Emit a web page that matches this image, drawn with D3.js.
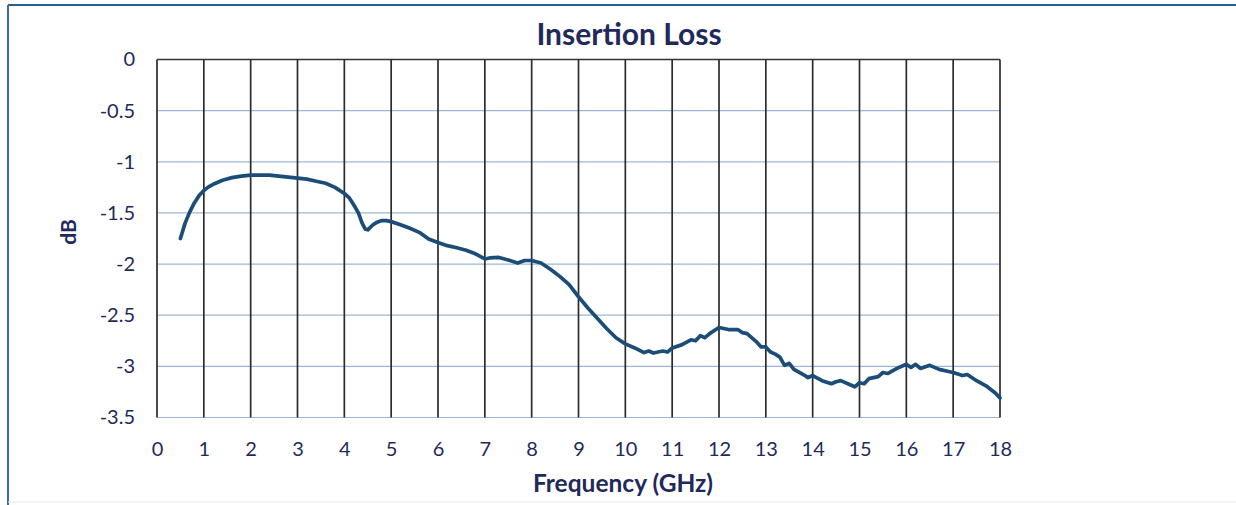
<!DOCTYPE html>
<html>
<head>
<meta charset="utf-8">
<script src="https://cdn.jsdelivr.net/npm/d3@7"></script>
<style>
  body { margin: 0; background: #fff; }
  svg { display: block; }
  text { font-family: Lato, "Open Sans", sans-serif; fill: #1f2a5a; }
</style>
</head>
<body>
<div id="chart"></div>
<script>
// Insertion Loss chart

var freqGHz = [0.5, 0.6, 0.7, 0.8, 0.9, 1.0, 1.1, 1.2, 1.4, 1.6, 1.8, 2.0, 2.2, 2.4, 2.6, 2.8,
    3.0, 3.2, 3.4, 3.6, 3.8, 4.0, 4.1, 4.2, 4.3, 4.38, 4.45, 4.5, 4.6, 4.7, 4.8, 4.9,
    5.0, 5.2, 5.4, 5.6, 5.8, 6.0, 6.2, 6.4, 6.6, 6.8, 7.0, 7.1, 7.3, 7.5, 7.7, 7.85,
    8.0, 8.2, 8.4, 8.6, 8.8, 9.0, 9.2, 9.4, 9.6, 9.8, 10.0, 10.2, 10.4, 10.5, 10.6, 10.8,
    10.9, 11.0, 11.2, 11.4, 11.5, 11.6, 11.7, 11.8, 12.0, 12.2, 12.4, 12.5, 12.6, 12.8,
    12.9, 13.0, 13.1, 13.2, 13.3, 13.4, 13.5, 13.6, 13.8, 13.9, 14.0, 14.2, 14.4, 14.5,
    14.6, 14.8, 14.9, 15.0, 15.1, 15.2, 15.4, 15.5, 15.6, 15.8, 16.0, 16.1, 16.2, 16.3,
    16.5, 16.7, 16.9, 17.0, 17.2, 17.3, 17.5, 17.7, 17.9, 18.0];

var lossDb = [-1.75, -1.60, -1.49, -1.40, -1.33, -1.28, -1.245, -1.22, -1.18, -1.155, -1.14, -1.13, -1.13, -1.13, -1.14, -1.15,
    -1.16, -1.17, -1.19, -1.21, -1.25, -1.31, -1.35, -1.42, -1.50, -1.60, -1.66, -1.665, -1.62, -1.59, -1.575, -1.575,
    -1.585, -1.615, -1.65, -1.69, -1.755, -1.79, -1.82, -1.84, -1.865, -1.90, -1.95, -1.94, -1.935, -1.96, -1.99, -1.965,
    -1.965, -1.99, -2.05, -2.12, -2.20, -2.32, -2.43, -2.53, -2.63, -2.72, -2.78, -2.82, -2.865, -2.85, -2.87, -2.85,
    -2.86, -2.82, -2.79, -2.74, -2.75, -2.70, -2.72, -2.68, -2.62, -2.64, -2.64, -2.67, -2.68, -2.76,
    -2.81, -2.81, -2.86, -2.88, -2.91, -2.99, -2.97, -3.03, -3.08, -3.11, -3.09, -3.14, -3.17, -3.15,
    -3.14, -3.18, -3.20, -3.16, -3.17, -3.12, -3.10, -3.06, -3.07, -3.02, -2.98, -3.01, -2.98, -3.02,
    -2.99, -3.03, -3.05, -3.06, -3.09, -3.08, -3.14, -3.19, -3.26, -3.31];

var xTicks = [0, 1, 2, 3, 4, 5, 6, 7, 8, 9, 10, 11, 12, 13, 14, 15, 16, 17, 18];
var yTicks = [0, -0.5, -1, -1.5, -2, -2.5, -3, -3.5];

var width = 1236, height = 505;
var plotLeft = 157, plotRight = 1000, plotTop = 59.5, plotBottom = 417.5;

var svg = d3.select("#chart")
    .append("svg")
        .attr("width", width)
        .attr("height", height);

// outer frame
svg.append("line").attr("x1", 8).attr("x2", width).attr("y1", 5).attr("y2", 5)
    .attr("stroke", "#2e5c8e").attr("stroke-width", 2);
svg.append("line").attr("x1", 8).attr("x2", 8).attr("y1", 5).attr("y2", height)
    .attr("stroke", "#3b67b8").attr("stroke-width", 2);
svg.append("line").attr("x1", 8).attr("x2", width).attr("y1", 502).attr("y2", 502)
    .attr("stroke", "#e6e6e6").attr("stroke-width", 1);

var x = d3.scaleLinear()
    .domain([0, 18])
    .range([plotLeft, plotRight]);

var y = d3.scaleLinear()
    .domain([-3.5, 0])
    .range([plotBottom, plotTop]);

// horizontal grid (light blue)
svg.selectAll("hgrid")
    .data(yTicks)
    .enter().append("line")
        .attr("x1", plotLeft)
        .attr("x2", plotRight)
        .attr("y1", function(d) { return y(d); })
        .attr("y2", function(d) { return y(d); })
        .attr("stroke", function(d) { return d === 0 ? "#333" : "#9bb7d6"; })
        .attr("stroke-width", function(d) { return d === 0 ? 1.5 : 1.2; });

// vertical grid (dark)
svg.selectAll("vgrid")
    .data(xTicks)
    .enter().append("line")
        .attr("x1", function(d) { return x(d); })
        .attr("x2", function(d) { return x(d); })
        .attr("y1", plotTop)
        .attr("y2", plotBottom)
        .attr("stroke", "#2b2b2b")
        .attr("stroke-width", 1.7);

// x axis
var xAxis = svg.append("g")
    .attr("transform", "translate(0," + plotBottom + ")")
    .call(d3.axisBottom(x).tickValues(xTicks).tickSize(0).tickPadding(24).tickFormat(d3.format("d")));
xAxis.select(".domain").remove();
xAxis.selectAll("text")
    .style("font-size", "20px")
    .attr("fill", "#1f2a5a");

// y axis
var yAxis = svg.append("g")
    .attr("transform", "translate(" + plotLeft + ",0)")
    .call(d3.axisLeft(y).tickValues(yTicks).tickSize(0).tickPadding(22).tickFormat(function(d) { return d === 0 ? "0" : String(d); }));
yAxis.select(".domain").remove();
yAxis.selectAll("text")
    .style("font-size", "20px")
    .attr("fill", "#1f2a5a");

// the curve
var line = d3.line()
    .x(function(d, i) { return x(freqGHz[i]); })
    .y(function(d) { return y(d); });

svg.append("path")
    .datum(lossDb)
    .attr("d", line)
    .attr("fill", "none")
    .attr("stroke", "#1b4d78")
    .attr("stroke-width", 3.7)
    .attr("stroke-linejoin", "round")
    .attr("stroke-linecap", "round");

// Title
svg.append("text")
    .attr("x", 629)
    .attr("y", 45)
    .attr("text-anchor", "middle")
    .style("font-size", "30px")
    .style("font-weight", "bold")
    .text("Insertion Loss");

// axis labels
svg.append("text")
    .attr("x", 623)
    .attr("y", 492)
    .attr("text-anchor", "middle")
    .style("font-size", "24.5px")
    .style("font-weight", "bold")
    .text("Frequency (GHz)");

svg.append("text")
    .attr("transform", "translate(76,232)rotate(-90)")
    .attr("text-anchor", "middle")
    .style("font-size", "21px")
    .style("font-weight", "bold")
    .text("dB");
</script>
</body>
</html>
